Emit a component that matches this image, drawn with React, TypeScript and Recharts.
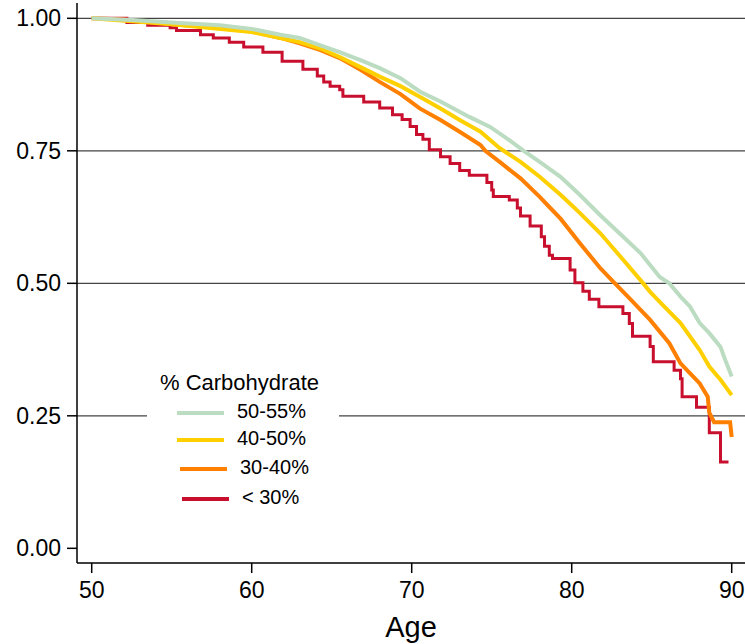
import React from 'react'
import { Legend, Line, LineChart, ReferenceLine, XAxis, YAxis } from 'recharts'

// age in years and survival proportion
const greenAges = [50, 52.5, 55.5, 58, 60, 61.8, 63, 64.3, 65.5, 66.8, 68, 69.3, 70.5, 71.8, 73.6, 74.9, 76.1, 77, 78, 79.3, 79.9, 80.5, 81.8, 83, 84.3, 85.5, 86.1, 86.8, 87.4, 88, 88.6, 89.3, 89.6, 90]
const greenSurv = [1, 0.997, 0.991, 0.987, 0.98, 0.969, 0.963, 0.949, 0.936, 0.921, 0.906, 0.887, 0.862, 0.843, 0.814, 0.795, 0.77, 0.75, 0.729, 0.701, 0.684, 0.667, 0.628, 0.594, 0.557, 0.512, 0.5, 0.475, 0.456, 0.425, 0.406, 0.38, 0.355, 0.324]

const yellowAges = [50, 55, 60, 61.8, 63, 64.3, 65.5, 66.8, 68, 69.3, 70.5, 71.8, 73, 74.3, 75.5, 76.8, 78, 79.3, 79.9, 80.5, 81.8, 83, 84.3, 84.9, 85.5, 86.8, 88, 88.6, 89.3, 90]
const yellowSurv = [1, 0.989, 0.974, 0.963, 0.955, 0.943, 0.927, 0.908, 0.89, 0.872, 0.852, 0.83, 0.808, 0.786, 0.755, 0.729, 0.701, 0.667, 0.65, 0.633, 0.594, 0.552, 0.506, 0.484, 0.465, 0.425, 0.374, 0.343, 0.318, 0.289]

const orangeAges = [50, 52, 55, 57.5, 60, 61.8, 63, 64.3, 65.5, 66.8, 68, 69.3, 70.5, 71.8, 73, 74.3, 74.6, 75.5, 76.8, 78, 78.6, 79.3, 80.5, 81.8, 82.7, 83.6, 84.9, 86.1, 86.8, 87.4, 88, 88.5, 88.6, 88.9, 89.9, 90]
const orangeSurv = [1, 0.998, 0.989, 0.983, 0.975, 0.963, 0.953, 0.94, 0.925, 0.903, 0.88, 0.857, 0.83, 0.808, 0.786, 0.761, 0.75, 0.729, 0.698, 0.663, 0.644, 0.622, 0.576, 0.528, 0.5, 0.472, 0.431, 0.387, 0.349, 0.33, 0.311, 0.286, 0.256, 0.238, 0.238, 0.21]

const redAges = [50, 52.2, 53.5, 54.9, 55.3, 56.8, 57.6, 58.6, 59.5, 60.7, 61.9, 63.2, 64.1, 64.5, 64.9, 65.5, 65.7, 67, 68, 68.8, 69.4, 69.9, 70.3, 70.7, 71.1, 71.8, 72.4, 73, 73.6, 74.7, 75, 75.1, 76.1, 76.6, 76.8, 77.4, 78.1, 78.3, 78.6, 78.8, 79.9, 80.2, 80.7, 81.1, 81.7, 83.2, 83.6, 83.8, 84.9, 85.1, 86.4, 86.8, 86.9, 87.8, 88.6, 89.3, 89.8]
const redSurv = [1, 0.992, 0.987, 0.982, 0.977, 0.969, 0.963, 0.955, 0.946, 0.936, 0.919, 0.904, 0.891, 0.88, 0.872, 0.865, 0.853, 0.842, 0.831, 0.818, 0.809, 0.796, 0.781, 0.772, 0.752, 0.739, 0.726, 0.713, 0.704, 0.69, 0.676, 0.664, 0.657, 0.642, 0.627, 0.608, 0.588, 0.57, 0.553, 0.547, 0.525, 0.501, 0.485, 0.47, 0.456, 0.443, 0.424, 0.4, 0.381, 0.352, 0.336, 0.32, 0.286, 0.266, 0.218, 0.163, 0.163]

const xTicks = [50, 60, 70, 80, 90]
const yTicks = [0, 0.25, 0.5, 0.75, 1]
const gridValues = [0.25, 0.5, 0.75, 1]

const legendTitle = '% Carbohydrate'
const legendLabels = ['50-55%', '40-50%', '30-40%', '< 30%']

const toRows = (ages: number[], surv: number[]) => ages.map((age, i) => ({ age, s: surv[i] }))

const colors = {
  green: '#bcdcc2',
  yellow: '#ffd000',
  orange: '#ff8000',
  red: '#c8102e'
}

const font = '"Liberation Sans", Arial, Helvetica, sans-serif'

const renderLegend = () => {
  const rows = [
    { label: legendLabels[0], color: colors.green, x: 30, y: 48 },
    { label: legendLabels[1], color: colors.yellow, x: 30, y: 75 },
    { label: legendLabels[2], color: colors.orange, x: 33, y: 104 },
    { label: legendLabels[3], color: colors.red, x: 35, y: 134 }
  ]
  return (
    <svg width={192} height={150} style={{ display: 'block', background: '#fff' }}>
      <text x={13} y={17} dominantBaseline="central" fontSize={22} fontFamily={font} fill="#000">
        {legendTitle}
      </text>
      {rows.map((r) => (
        <g key={r.label}>
          <line x1={r.x} x2={r.x + 47} y1={r.y} y2={r.y} stroke={r.color} strokeWidth={4} />
          <text x={r.x + 60} y={r.y - 2} dominantBaseline="central" fontSize={20} fontFamily={font} fill="#000">
            {r.label}
          </text>
        </g>
      ))}
    </svg>
  )
}

const App: React.FC = () => {
  return (
    <div style={{ position: 'absolute', left: 0, top: 0, background: '#fff' }}>
      <LineChart width={745} height={644} margin={{ top: 3, right: 0, bottom: 0, left: 0 }}>
        {gridValues.map((v) => (
          <ReferenceLine key={v} y={v} stroke="#444" strokeWidth={1.2} ifOverflow="visible" />
        ))}
        <XAxis
          dataKey="age"
          type="number"
          domain={[49.081, 90.831]}
          allowDataOverflow
          ticks={xTicks}
          height={81}
          tickSize={10}
          tickMargin={9}
          axisLine={{ stroke: '#000', strokeWidth: 1.5 }}
          tickLine={{ stroke: '#000', strokeWidth: 1.5 }}
          tick={{ fill: '#000', fontSize: 23, fontFamily: font }}
          label={{ value: 'Age', position: 'insideBottom', offset: 7, fill: '#000', fontSize: 29, fontFamily: font }}
        />
        <YAxis
          type="number"
          domain={[-0.0277, 1.0289]}
          allowDataOverflow
          ticks={yTicks}
          width={77}
          tickSize={10}
          tickMargin={6}
          tickFormatter={(v: number) => v.toFixed(2)}
          axisLine={{ stroke: '#000', strokeWidth: 1.5 }}
          tickLine={{ stroke: '#000', strokeWidth: 1.5 }}
          tick={{ fill: '#000', fontSize: 23, fontFamily: font }}
        />
        <Legend
          layout="vertical"
          align="center"
          verticalAlign="middle"
          content={renderLegend}
          wrapperStyle={{ left: 147, top: 365, width: 192, height: 150 }}
        />
        <Line data={toRows(redAges, redSurv)} dataKey="s" type="stepAfter" stroke={colors.red} strokeWidth={3} dot={false} isAnimationActive={false} />
        <Line data={toRows(orangeAges, orangeSurv)} dataKey="s" type="linear" stroke={colors.orange} strokeWidth={4} dot={false} isAnimationActive={false} />
        <Line data={toRows(yellowAges, yellowSurv)} dataKey="s" type="linear" stroke={colors.yellow} strokeWidth={4} dot={false} isAnimationActive={false} />
        <Line data={toRows(greenAges, greenSurv)} dataKey="s" type="linear" stroke={colors.green} strokeWidth={4} dot={false} isAnimationActive={false} />
      </LineChart>
    </div>
  )
}

export default App
